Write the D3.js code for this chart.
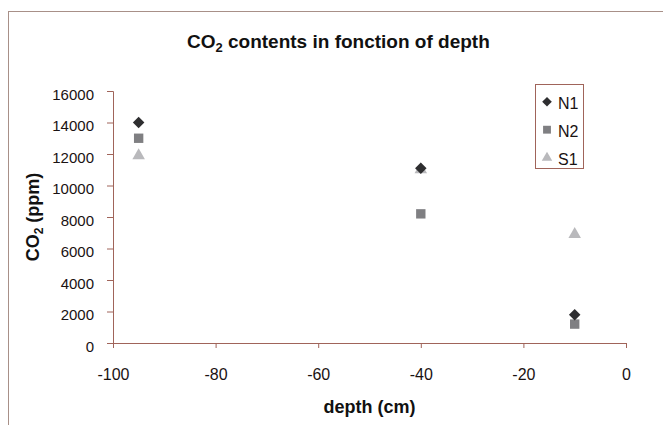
<!DOCTYPE html>
<html>
<head>
<meta charset="utf-8">
<script src="https://cdn.jsdelivr.net/npm/d3@7"></script>
<style>
  body { margin: 0; background: #fff; }
  text { font-family: "Liberation Sans", Arial, sans-serif; }
</style>
</head>
<body>
<svg id="chart"></svg>
<script>
// data
var depths = [-95, -40, -10];
var seriesNames = ["N1", "N2", "S1"];
var n1Values = [14000, 11100, 1800];
var n2Values = [13000, 8200, 1200];
var s1Values = [11900, 11000, 6900];
var xTicks = [-100, -80, -60, -40, -20, 0];
var yTicks = [0, 2000, 4000, 6000, 8000, 10000, 12000, 14000, 16000];

var width = 663, height = 425;
var margins = { top: 91, right: 37, bottom: 82, left: 113 };
var plotW = width - margins.left - margins.right;
var plotH = height - margins.top - margins.bottom;

var axisColor = "#a0645a";
var textColor = "#1a1212";

const svg = d3.select("#chart")
    .attr("width", width)
    .attr("height", height);

// outer chart frame (runs off right and bottom)
svg.append("rect")
    .attr("x", 8.5).attr("y", 11.5)
    .attr("width", 700).attr("height", 500)
    .attr("fill", "none")
    .attr("stroke", "#a89088")
    .attr("stroke-width", 1);

const g = svg.append("g")
    .attr("transform", `translate(${margins.left},${margins.top})`);

const xScale = d3.scaleLinear().domain([-100, 0]).range([0, plotW]);
const yScale = d3.scaleLinear().domain([0, 16000]).range([plotH, 0]);

// x axis (plain hyphen minus like the original)
const xAxis = g.append("g")
    .attr("transform", `translate(0,${plotH})`)
    .call(d3.axisBottom(xScale).tickValues(xTicks).tickSize(5).tickPadding(21).tickFormat(d => String(d)));
xAxis.select(".domain").attr("stroke", axisColor);
xAxis.selectAll(".tick line").attr("stroke", axisColor);
xAxis.selectAll("text").attr("font-size", 16).attr("fill", textColor);

// y axis
const yAxis = g.append("g")
    .call(d3.axisLeft(yScale).tickValues(yTicks).tickSize(6).tickPadding(13).tickFormat(d => String(d)));
yAxis.select(".domain").attr("stroke", axisColor);
yAxis.selectAll(".tick line").attr("stroke", axisColor);
yAxis.selectAll("text").attr("font-size", 15).attr("fill", textColor).attr("dy", "0.55em");

// marker styles per series
var series = [
  { name: seriesNames[0], values: n1Values, symbol: d3.symbolSquare, size: 66, rotate: 45, color: "#2e2e30" },
  { name: seriesNames[1], values: n2Values, symbol: d3.symbolSquare, size: 88, rotate: 0, color: "#7f7f82" },
  { name: seriesNames[2], values: s1Values, symbol: d3.symbolTriangle, size: 68, rotate: 0, color: "#b9b9bc" }
];

// draw in reverse so N1 sits on top
series.slice().reverse().forEach(s => {
  g.selectAll(null)
    .data(depths.map((d, i) => ({ x: d, y: s.values[i] })))
    .enter()
    .append("path")
    .attr("d", d3.symbol().type(s.symbol).size(s.size))
    .attr("transform", d => `translate(${xScale(d.x)},${yScale(d.y)}) rotate(${s.rotate})`)
    .attr("fill", s.color);
});

// title
const title = svg.append("text")
    .attr("x", 187).attr("y", 48)
    .attr("font-size", 19).attr("font-weight", "bold")
    .attr("fill", "#111");
title.append("tspan").text("CO");
title.append("tspan").attr("font-size", 13).attr("dy", 4).text("2");
title.append("tspan").attr("dy", -4).text(" contents in fonction of depth");

// axis labels
svg.append("text")
    .attr("x", margins.left + plotW / 2).attr("y", 413)
    .attr("text-anchor", "middle")
    .attr("font-size", 18).attr("font-weight", "bold")
    .attr("fill", "#111")
    .text("depth (cm)");

const yLabel = svg.append("text")
    .attr("transform", "translate(38.5,217) rotate(-90)")
    .attr("text-anchor", "middle")
    .attr("font-size", 18).attr("font-weight", "bold")
    .attr("fill", "#111");
yLabel.append("tspan").text("CO");
yLabel.append("tspan").attr("font-size", 12).attr("dy", 4).text("2");
yLabel.append("tspan").attr("dy", -4).text(" (ppm)");

// legend
const legend = svg.append("g").attr("transform", "translate(535,84)");
legend.append("rect")
    .attr("x", 0.5).attr("y", 0.5)
    .attr("width", 48).attr("height", 84)
    .attr("fill", "#fff")
    .attr("stroke", axisColor);
series.forEach((s, i) => {
  const row = legend.append("g").attr("transform", `translate(0,${17.7 + i * 28})`);
  row.append("path")
    .attr("d", d3.symbol().type(s.symbol).size(s.size * 0.7))
    .attr("transform", `translate(12,0) rotate(${s.rotate})`)
    .attr("fill", s.color);
  row.append("text")
    .attr("x", 23).attr("y", 7.5)
    .attr("font-size", 16)
    .attr("fill", textColor)
    .text(s.name);
});
</script>
</body>
</html>
